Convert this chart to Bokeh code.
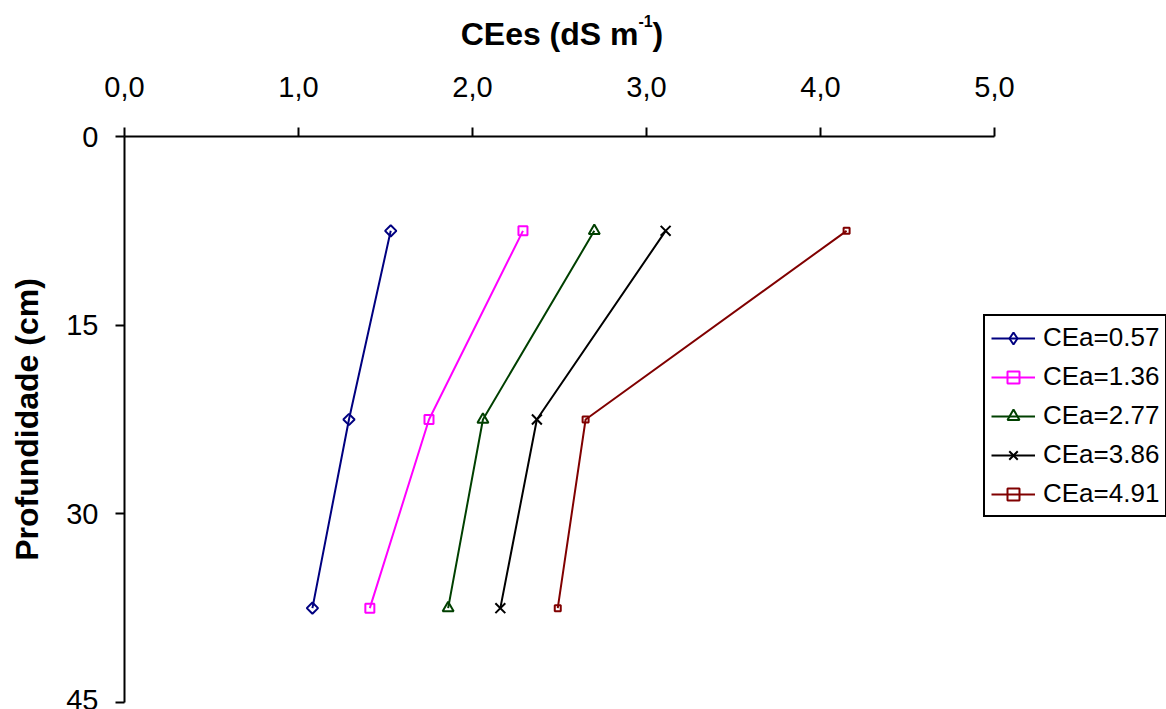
from bokeh.plotting import figure
from bokeh.models import Range1d, FixedTicker, Legend, LegendItem, Label, LinearAxis
from bokeh.embed import file_html
from bokeh.resources import INLINE

# Soil depth (cm) of each sampling layer
depth = [7.5, 22.5, 37.5]

# Electrical conductivity of the saturation extract (dS m-1) for each irrigation water salinity
series_names = ["CEa=0.57", "CEa=1.36", "CEa=2.77", "CEa=3.86", "CEa=4.91"]
cees_057 = [1.53, 1.29, 1.08]
cees_136 = [2.29, 1.75, 1.41]
cees_277 = [2.70, 2.06, 1.86]
cees_386 = [3.11, 2.37, 2.16]
cees_491 = [4.15, 2.65, 2.49]

x_ticks = [0, 1, 2, 3, 4, 5]
x_tick_labels = ["0,0", "1,0", "2,0", "3,0", "4,0", "5,0"]
y_ticks = [0, 15, 30, 45]

FONT = "Liberation Sans"

W, H = 1166, 709
# pixel box of the axes (0..5 across, 0..45 down)
AX_L, AX_R, AX_T, AX_B = 124, 994, 136, 702
X_MAX, Y_MAX = 5.0, 45.0

ux = X_MAX / (AX_R - AX_L)
uy = Y_MAX / (AX_B - AX_T)
x_start = -AX_L * ux
x_end = x_start + W * ux
y_top = -AX_T * uy
y_bottom = y_top + H * uy


def px_x(px):
    return x_start + px * ux


def px_y(py):
    return y_top + py * uy


p = figure(
    width=W, height=H,
    x_range=Range1d(x_start, x_end), y_range=Range1d(y_bottom, y_top),
    x_axis_type=None, y_axis_type=None,
    output_backend="svg", toolbar_location=None,
    min_border_left=0, min_border_right=0,
    min_border_top=0, min_border_bottom=0,
)
p.outline_line_color = None
p.background_fill_color = "white"
p.border_fill_color = "white"

xaxis = LinearAxis(fixed_location=0, bounds=(0, X_MAX), ticker=FixedTicker(ticks=x_ticks))
yaxis = LinearAxis(fixed_location=0, bounds=(0, Y_MAX), ticker=FixedTicker(ticks=y_ticks))
p.add_layout(xaxis, "above")
p.add_layout(yaxis, "left")

for ax in (xaxis, yaxis):
    ax.axis_line_color = "black"
    ax.axis_line_width = 2
    ax.major_tick_line_color = "black"
    ax.major_tick_line_width = 2
    ax.major_tick_in = 0
    ax.major_tick_out = 9
    ax.minor_tick_in = 0
    ax.minor_tick_out = 0
    ax.major_label_text_font = FONT
    ax.major_label_text_font_size = "29px"
    ax.major_label_text_color = "black"

xaxis.major_label_overrides = dict(zip(x_ticks, x_tick_labels))
xaxis.major_label_standoff = 31

yaxis.major_label_standoff = 17
yaxis.axis_label = "Profundidade (cm)"
yaxis.axis_label_text_font = FONT
yaxis.axis_label_text_font_size = "32px"
yaxis.axis_label_text_font_style = "bold"
yaxis.axis_label_text_color = "black"
yaxis.axis_label_standoff = 18

# marker: shape on the plot; key_marker: shape shown in the legend key
styles = [
    dict(values=cees_057, color="#000080", marker="square", size=8, angle=0.785398, key_marker="diamond"),
    dict(values=cees_136, color="#FF00FF", marker="square", size=9, angle=0.0, key_marker=None),
    dict(values=cees_277, color="#004000", marker="triangle", size=11, angle=0.0, key_marker=None),
    dict(values=cees_386, color="#000000", marker="x", size=14, angle=0.0, key_marker=None),
    dict(values=cees_491, color="#800000", marker="square", size=6, angle=0.0, key_marker=None),
]

items = []
for name, st in zip(series_names, styles):
    ln = p.line(st["values"], depth, line_color=st["color"], line_width=2)
    sc = p.scatter(st["values"], depth, marker=st["marker"], size=st["size"],
                   angle=st["angle"], line_color=st["color"], line_width=2,
                   fill_color=None)
    key = sc
    if st["key_marker"] is not None:
        # legend key glyph: zero size on the plot, the legend sizes its own key
        key = p.scatter(st["values"], depth, marker=st["key_marker"], size=0,
                        line_color=st["color"], line_width=2, fill_color=None)
    items.append(LegendItem(label=name, renderers=[ln, key]))

legend = Legend(
    items=items,
    location=(983, H - 517),
    label_text_font=FONT, label_text_font_size="26px", label_text_color="black",
    glyph_width=44, glyph_height=30, label_height=30, label_standoff=8,
    spacing=8, padding=6, margin=0,
    border_line_color="black", border_line_width=2, border_line_alpha=1.0,
    background_fill_color="white", background_fill_alpha=1.0,
)
p.add_layout(legend, "center")

# Axis title above the plot, with a raised exponent
p.add_layout(Label(x=px_x(638), y=px_y(33), text="CEes (dS m", text_font=FONT,
                   text_font_size="32px", text_font_style="bold", text_color="black",
                   text_align="right", text_baseline="alphabetic"))
p.add_layout(Label(x=px_x(638), y=px_y(20), text="-1", text_font=FONT,
                   text_font_size="16px", text_font_style="bold", text_color="black",
                   text_align="left", text_baseline="alphabetic"))
p.add_layout(Label(x=px_x(652), y=px_y(33), text=")", text_font=FONT,
                   text_font_size="32px", text_font_style="bold", text_color="black",
                   text_align="left", text_baseline="alphabetic"))

open("out.html", "w").write(file_html(p, INLINE))
